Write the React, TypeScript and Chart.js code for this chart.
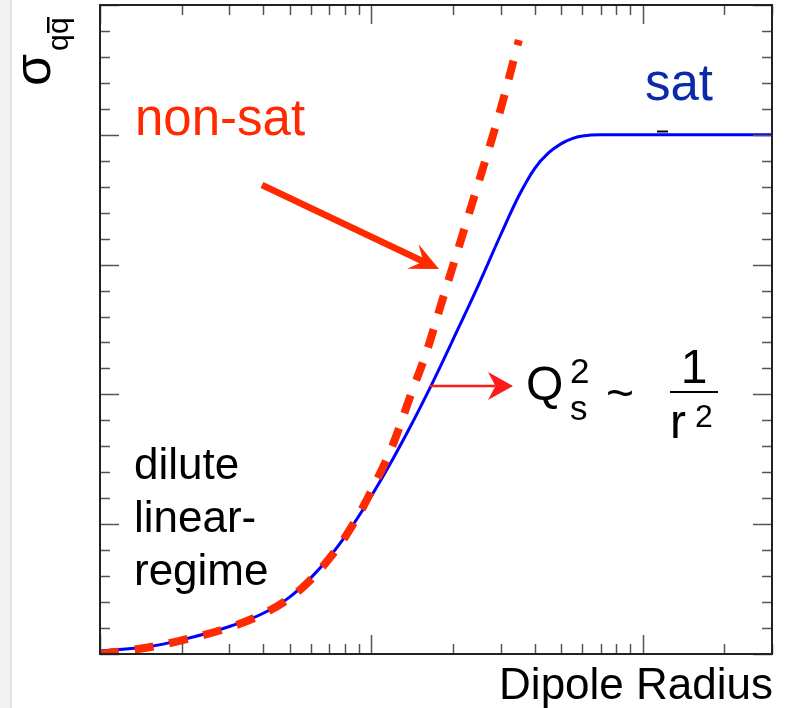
import React, { useEffect, useRef } from "react";
import { Chart, registerables } from "chart.js";
Chart.register(...registerables);

// Dipole radius (log axis, arbitrary units)
const satRadius = [0.1, 0.15, 0.2, 0.3, 0.4, 0.5, 0.6, 0.7, 0.8, 0.9, 1.0, 1.2, 1.4, 1.6, 1.8, 2.0, 2.5, 3.0, 3.5, 4, 4.5, 5, 5.5, 6, 7, 8, 10, 15, 20, 30];
const satSigma = [0.023, 0.056, 0.109, 0.212, 0.314, 0.438, 0.588, 0.745, 0.904, 1.063, 1.216, 1.501, 1.76, 1.998, 2.218, 2.421, 2.856, 3.23, 3.53, 3.74, 3.86, 3.93, 3.97, 3.99, 4.0, 4.0, 4.0, 4.0, 4.0, 4.0];
const nonSatRadius = [0.1, 0.15, 0.2, 0.3, 0.4, 0.5, 0.6, 0.7, 0.8, 0.9, 1.0, 1.2, 1.4, 1.6, 1.8, 2.0, 2.5, 3.0, 3.5];
const nonSatSigma = [0.0, 0.05, 0.105, 0.205, 0.31, 0.43, 0.575, 0.735, 0.9, 1.075, 1.255, 1.61, 2.0, 2.33, 2.68, 2.99, 3.65, 4.2, 4.73];

const xMajorTicks = [0.1, 1, 10];
const xMinorTicks = [0.2, 0.3, 0.4, 0.5, 0.6, 0.7, 0.8, 0.9, 2, 3, 4, 5, 6, 7, 8, 9, 20, 30];
const yMajorTicks = [0, 1, 2, 3, 4, 5];
const yMinorTicks = [0.2, 0.4, 0.6, 0.8, 1.2, 1.4, 1.6, 1.8, 2.2, 2.4, 2.6, 2.8, 3.2, 3.4, 3.6, 3.8, 4.2, 4.4, 4.6, 4.8];

const FONT = '"Liberation Sans", Arial, Helvetica, sans-serif';

function arrow(ctx: CanvasRenderingContext2D, x1: number, y1: number, x2: number, y2: number, shaft: number, headLen: number, headHalf: number, notch: number, color: string) {
  const dx = x2 - x1, dy = y2 - y1;
  const len = Math.hypot(dx, dy);
  const ux = dx / len, uy = dy / len;
  const px = -uy, py = ux;
  const bx = x2 - ux * headLen, by = y2 - uy * headLen;
  const nx = x2 - ux * headLen * notch, ny = y2 - uy * headLen * notch;
  ctx.save();
  ctx.strokeStyle = color;
  ctx.fillStyle = color;
  ctx.lineWidth = shaft;
  ctx.lineCap = "butt";
  ctx.beginPath();
  ctx.moveTo(x1, y1);
  ctx.lineTo(nx, ny);
  ctx.stroke();
  ctx.beginPath();
  ctx.moveTo(x2, y2);
  ctx.lineTo(bx + px * headHalf, by + py * headHalf);
  ctx.lineTo(nx, ny);
  ctx.lineTo(bx - px * headHalf, by - py * headHalf);
  ctx.closePath();
  ctx.fill();
  ctx.restore();
}

const decor = {
  id: "decor",
  beforeDraw(chart: any) {
    const ctx = chart.ctx as CanvasRenderingContext2D;
    ctx.save();
    ctx.fillStyle = "#ffffff";
    ctx.fillRect(0, 0, chart.width, chart.height);
    ctx.fillStyle = "#f1f1f1";
    ctx.fillRect(0, 0, 10.5, chart.height);
    ctx.fillStyle = "#c9c9c9";
    ctx.fillRect(10.5, 0, 1, chart.height);
    ctx.restore();
  },
  afterDatasetsDraw(chart: any) {
    const ctx = chart.ctx as CanvasRenderingContext2D;
    const { left, right, top, bottom } = chart.chartArea;
    const xs = chart.scales.x;
    const ys = chart.scales.y;
    ctx.save();
    // ticks
    ctx.strokeStyle = "#555555";
    ctx.lineWidth = 1.5;
    const xt = (v: number, l: number) => {
      const p = Math.round(xs.getPixelForValue(v)) + 0.5;
      ctx.beginPath();
      ctx.moveTo(p, bottom); ctx.lineTo(p, bottom - l);
      ctx.moveTo(p, top); ctx.lineTo(p, top + l);
      ctx.stroke();
    };
    const yt = (v: number, l: number) => {
      const p = Math.round(ys.getPixelForValue(v)) + 0.5;
      ctx.beginPath();
      ctx.moveTo(left, p); ctx.lineTo(left + l, p);
      ctx.moveTo(right, p); ctx.lineTo(right - l, p);
      ctx.stroke();
    };
    xMinorTicks.forEach((v) => xt(v, 10));
    xMajorTicks.forEach((v) => xt(v, 19));
    yMinorTicks.forEach((v) => yt(v, 10));
    yMajorTicks.forEach((v) => yt(v, 19));
    // frame
    ctx.strokeStyle = "#222222";
    ctx.lineWidth = 2;
    ctx.strokeRect(left, top, right - left, bottom - top);

    // arrows
    arrow(ctx, 262, 185, 439, 269, 6.5, 29, 13.5, 0.6, "#ff2a00");
    arrow(ctx, 430, 386, 513, 386, 2.5, 25, 14, 0.7, "#ff1a1a");

    // texts
    ctx.textBaseline = "alphabetic";
    ctx.textAlign = "left";
    ctx.fillStyle = "#ff2a00";
    ctx.font = `51px ${FONT}`;
    ctx.fillText("non-sat", 135, 135);
    ctx.fillStyle = "#0b2aaa";
    ctx.fillText("sat", 645, 100);

    ctx.fillStyle = "#000000";
    ctx.font = `44px ${FONT}`;
    ctx.fillText("dilute", 134, 479);
    ctx.fillText("linear-", 134, 532);
    ctx.fillText("regime", 134, 585);

    ctx.font = `44px ${FONT}`;
    ctx.textAlign = "right";
    ctx.fillText("Dipole Radius", 773, 699);
    ctx.textAlign = "left";

    // Q_s^2 ~ 1/r^2
    ctx.font = `48px ${FONT}`;
    ctx.fillText("Q", 526, 400);
    ctx.font = `35px ${FONT}`;
    ctx.fillText("2", 570, 383);
    ctx.fillText("s", 570, 420);
    ctx.font = `48px ${FONT}`;
    ctx.fillText("~", 606, 409);
    ctx.textAlign = "center";
    ctx.fillText("1", 694, 383);
    ctx.textAlign = "left";
    ctx.fillRect(670, 391, 48, 2);
    ctx.fillText("r", 670, 438);
    ctx.font = `32px ${FONT}`;
    ctx.fillText("2", 695, 427);

    // small mark
    ctx.fillRect(657, 130.5, 11, 2);

    // y title: sigma_{q qbar}, rotated
    ctx.translate(50, 86);
    ctx.rotate(-Math.PI / 2);
    ctx.font = `52px ${FONT}`;
    ctx.fillText("σ", 0, 0);
    ctx.font = `30px ${FONT}`;
    ctx.fillText("q", 35, 18);
    ctx.fillText("q", 52, 18);
    ctx.fillRect(53, -3, 16, 2.5);
    ctx.restore();
  },
};

export default function App() {
  const ref = useRef<HTMLCanvasElement | null>(null);
  useEffect(() => {
    if (!ref.current) return;
    const chart = new Chart(ref.current, {
      type: "line",
      data: {
        datasets: [
          {
            label: "non-sat",
            data: nonSatRadius.map((r, i) => ({ x: r, y: nonSatSigma[i] })),
            borderColor: "#ff2a00",
            borderWidth: 8,
            borderDash: [19, 16],
            borderCapStyle: "butt",
            pointRadius: 0,
            cubicInterpolationMode: "monotone",
            fill: false,
          },
          {
            label: "sat",
            data: satRadius.map((r, i) => ({ x: r, y: satSigma[i] })),
            borderColor: "#0000ff",
            borderWidth: 3,
            pointRadius: 0,
            cubicInterpolationMode: "monotone",
            fill: false,
          },
        ],
      },
      options: {
        animation: false,
        responsive: false,
        layout: { padding: { left: 100, top: 5, right: 20, bottom: 54 } },
        plugins: { legend: { display: false }, tooltip: { enabled: false } },
        events: [],
        scales: {
          x: { type: "logarithmic", min: 0.1, max: 30, display: false },
          y: { type: "linear", min: 0, max: 5, display: false },
        },
      },
      plugins: [decor],
    });
    return () => chart.destroy();
  }, []);
  return (
    <div style={{ position: "absolute", left: 0, top: 0, width: 792, height: 708 }}>
      <canvas ref={ref} width={792} height={708} style={{ display: "block" }} />
    </div>
  );
}
